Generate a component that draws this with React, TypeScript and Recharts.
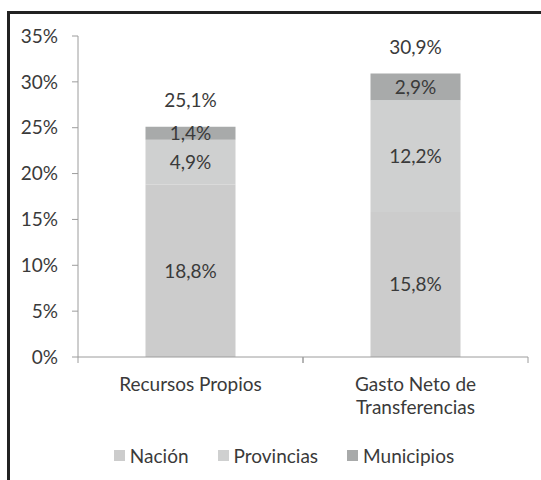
import React from 'react';
import { BarChart, Bar, XAxis, YAxis, Legend, LabelList, Text } from 'recharts';

// valores (% del PIB)
const categories = ['Recursos Propios', 'Gasto Neto de Transferencias'];
const seriesNames = ['Nación', 'Provincias', 'Municipios'];
const nacion = [18.8, 15.8];
const provincias = [4.9, 12.2];
const municipios = [1.4, 2.9];
const totals = [25.1, 30.9];
const yTicks = [0, 5, 10, 15, 20, 25, 30, 35];

const data = categories.map((name, i) => ({
  name,
  nacion: nacion[i],
  provincias: provincias[i],
  municipios: municipios[i],
  total: totals[i],
}));

const FONT = 'Lato, "Open Sans", sans-serif';
const FS = 19;
const TEXT = '#3a3a3a';
const AXIS = '#9c9c9c';

const W = 541;
const H = 480;
const M = { top: 36, right: 13, bottom: 13, left: 10 };
const Y_W = 68;
const X_H = 86;
const LEGEND_H = 24;
const PLOT_BOTTOM = H - M.bottom - LEGEND_H - X_H;
const BAND = (W - M.left - M.right - Y_W) / categories.length;

const pct = (v: number) => `${Number(v).toFixed(1).replace('.', ',')}%`;

const CategoryTick = (props: any) => {
  const { x, y, payload } = props;
  const half = BAND / 2;
  return (
    <g>
      <line x1={x - half} x2={x - half} y1={PLOT_BOTTOM} y2={PLOT_BOTTOM + 6} stroke={AXIS} />
      <line x1={x + half} x2={x + half} y1={PLOT_BOTTOM} y2={PLOT_BOTTOM + 6} stroke={AXIS} />
      <Text
        x={x}
        y={y}
        width={170}
        textAnchor="middle"
        verticalAnchor="start"
        lineHeight="1.2em"
        fill={TEXT}
        fontSize={FS}
        style={{ fontFamily: FONT, fontSize: FS }}
      >
        {payload.value}
      </Text>
    </g>
  );
};

const LegendContent = ({ payload }: any) => {
  const items = [...(payload || [])].sort(
    (a: any, b: any) => seriesNames.indexOf(a.value) - seriesNames.indexOf(b.value)
  );
  return (
    <div
      style={{
        height: LEGEND_H,
        display: 'flex',
        justifyContent: 'center',
        alignItems: 'center',
        gap: 29,
        paddingLeft: 30,
        fontFamily: FONT,
        fontSize: FS,
        color: TEXT,
      }}
    >
      {items.map((p: any) => (
        <span key={p.value} style={{ display: 'flex', alignItems: 'center' }}>
          <span style={{ width: 11, height: 11, background: p.color, marginRight: 5 }} />
          {p.value}
        </span>
      ))}
    </div>
  );
};

const labelStyle = { fill: TEXT, fontSize: FS, fontFamily: FONT };

export default function App() {
  return (
    <div style={{ position: 'absolute', left: 0, top: 0, width: W, height: H, background: '#fff' }}>
      <div
        style={{
          position: 'absolute',
          left: 7,
          top: 11,
          right: 0,
          bottom: 0,
          borderLeft: '3px solid #222',
          borderTop: '3px solid #222',
        }}
      />
      <BarChart width={W} height={H} data={data} margin={M} barCategoryGap="30%">
        <XAxis
          dataKey="name"
          height={X_H}
          tickSize={6}
          tickMargin={15}
          tickLine={false}
          axisLine={{ stroke: AXIS }}
          tick={<CategoryTick />}
          interval={0}
        />
        <YAxis
          width={Y_W}
          domain={[0, 35]}
          ticks={yTicks}
          tickFormatter={(v) => `${v}%`}
          tickSize={6}
          tickMargin={14}
          axisLine={{ stroke: AXIS }}
          tickLine={{ stroke: AXIS }}
          tick={{ fill: TEXT, fontSize: FS, fontFamily: FONT }}
        />
        <Legend verticalAlign="bottom" height={LEGEND_H} content={<LegendContent />} />
        <Bar dataKey="nacion" name={seriesNames[0]} stackId="a" fill="#cccccc" isAnimationActive={false}>
          <LabelList dataKey="nacion" position="center" formatter={pct} style={labelStyle} />
        </Bar>
        <Bar dataKey="provincias" name={seriesNames[1]} stackId="a" fill="#cfd0d0" isAnimationActive={false}>
          <LabelList dataKey="provincias" position="center" formatter={pct} style={labelStyle} />
        </Bar>
        <Bar dataKey="municipios" name={seriesNames[2]} stackId="a" fill="#a8aaaa" isAnimationActive={false}>
          <LabelList dataKey="municipios" position="center" formatter={pct} style={labelStyle} />
          <LabelList dataKey="total" position="top" offset={20} formatter={pct} style={labelStyle} />
        </Bar>
      </BarChart>
    </div>
  );
}
